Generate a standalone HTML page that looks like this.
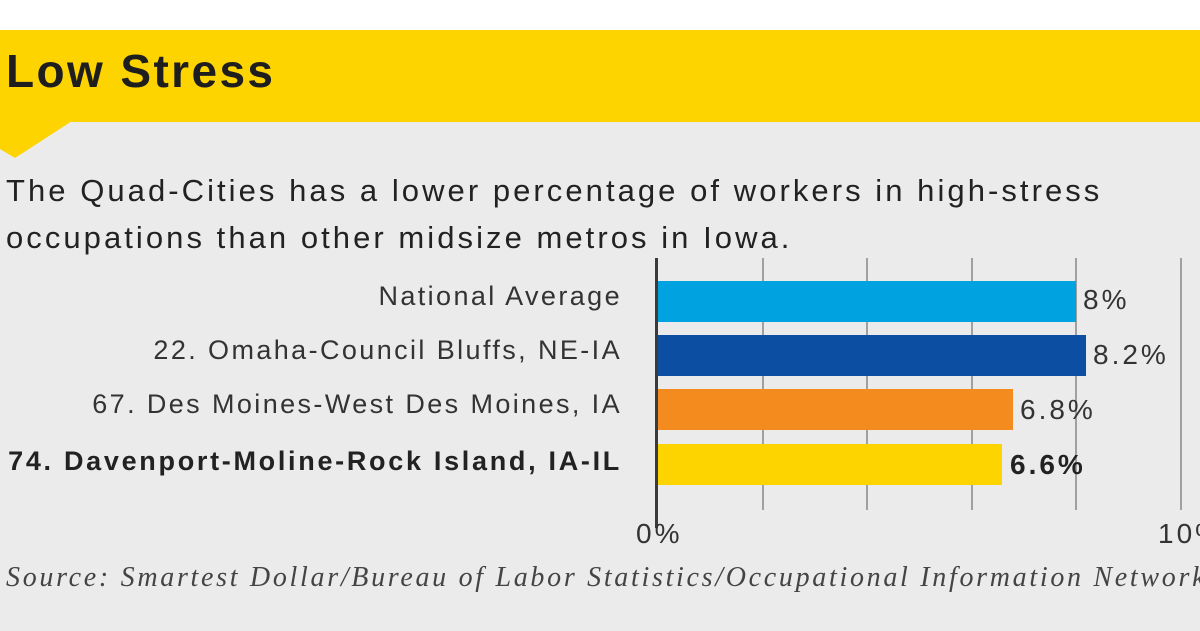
<!DOCTYPE html>
<html><head><style>
body{margin:0;width:1200px;height:631px;overflow:hidden;background:#ebebeb;font-family:"Liberation Sans",sans-serif;position:relative}
.a{position:absolute;white-space:nowrap}
.lab{position:absolute;right:578px;font-size:27px;color:#333;white-space:nowrap;letter-spacing:2.4px}
.bar{position:absolute;left:658px;height:41px}
.v{position:absolute;font-size:28px;color:#333;letter-spacing:3px}
.g{position:absolute;top:258px;height:252px;width:1.5px;background:#a0a0a0}
</style></head><body>
<div class="a" style="left:0;top:0;width:1200px;height:30px;background:#fff"></div>
<div class="a" style="left:0;top:30px;width:1200px;height:92px;background:#fdd400"></div>
<svg class="a" style="left:0;top:121px" width="80" height="40"><polygon points="0,0 72,0 15,37 0,28" fill="#fdd400"/></svg>
<div class="a" style="left:6px;top:44px;font-size:46px;font-weight:bold;color:#1e1e1e;letter-spacing:2.4px">Low Stress</div>
<div class="a" style="left:6px;top:167px;font-size:31px;line-height:47px;color:#222;letter-spacing:3.05px">The Quad-Cities has a lower percentage of workers in high-stress<br>occupations than other midsize metros in Iowa.</div>
<div class="g" style="left:762px"></div><div class="g" style="left:866px"></div><div class="g" style="left:971px"></div><div class="g" style="left:1075px"></div><div class="g" style="left:1180px"></div>
<div class="bar" style="top:281px;width:418px;background:#00a3e0"></div>
<div class="bar" style="top:335px;width:428px;background:#0b4ea2"></div>
<div class="bar" style="top:389px;width:355px;background:#f48b1f"></div>
<div class="bar" style="top:444px;width:344px;background:#fdd400"></div>
<div class="a" style="left:655px;top:258px;width:3px;height:270px;background:#3a3a3a"></div>
<div class="lab" style="top:281px">National Average</div>
<div class="lab" style="top:335px">22. Omaha-Council Bluffs, NE-IA</div>
<div class="lab" style="top:389px">67. Des Moines-West Des Moines, IA</div>
<div class="lab" style="top:446px;font-weight:bold;color:#222;letter-spacing:2.7px">74. Davenport-Moline-Rock Island, IA-IL</div>
<div class="v" style="left:1083px;top:284px">8%</div>
<div class="v" style="left:1093px;top:339px">8.2%</div>
<div class="v" style="left:1020px;top:394px">6.8%</div>
<div class="v" style="left:1010px;top:449px;font-weight:bold;color:#222">6.6%</div>
<div class="v" style="left:636px;top:518px">0%</div>
<div class="v" style="left:1158px;top:518px">10%</div>
<div class="a" style="left:6px;top:562px;font-family:'Liberation Serif',serif;font-style:italic;font-size:28px;color:#444;letter-spacing:2.7px">Source: Smartest Dollar/Bureau of Labor Statistics/Occupational Information Network</div>
</body></html>
